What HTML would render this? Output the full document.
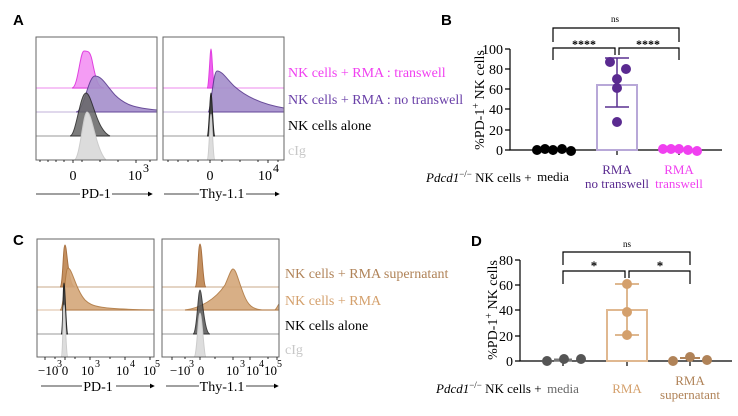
<!DOCTYPE html>
<html><head><meta charset="utf-8"><style>
body{margin:0;background:#fff;width:738px;height:416px;overflow:hidden}
svg{display:block}
text{font-family:"Liberation Serif",serif;}
.b{font-family:"Liberation Sans",sans-serif;font-weight:bold;font-size:15px}
</style></head><body>
<svg width="738" height="416" viewBox="0 0 738 416" xmlns="http://www.w3.org/2000/svg">
<defs>
<marker id="ar" markerWidth="6" markerHeight="6" refX="5" refY="3" orient="auto"><path d="M0,0 L6,3 L0,6 z" fill="#000"/></marker>
</defs>
<!-- Panel A -->
<text x="13" y="25" class="b">A</text>
<g stroke-width="1">
<path d="M36,88 H157" stroke="#f4b0f4" stroke-width="1.5"/>
<path d="M36,112 H157" stroke="#c0b0d8"/>
<path d="M36,136 H157" stroke="#999"/>
<path d="M72,88 C78,88 80,51 84,51 C88,51 90,51 92,60 C96,80 98,88 104,88 Z" fill="#f49cf4" stroke="#e040e0"/>
<path d="M76,112 C84,112 88,76 95,76 C102,76 106,85 115,95 C125,105 135,108 157,110 L157,112 Z" fill="#a58fcb" stroke="#5a3a90" opacity="0.9"/>
<path d="M70,136 C76,136 80,93 86,93 C92,93 96,130 110,136 Z" fill="#666" stroke="#222" opacity="0.85"/>
<path d="M74,160 C80,160 83,112 87,112 C92,112 96,150 106,160 Z" fill="#dcdcdc" stroke="#ccc"/>
<rect x="36" y="37" width="121" height="123" fill="none" stroke="#666"/>
<path d="M163,88 H284" stroke="#f4b0f4" stroke-width="1.5"/>
<path d="M163,112 H284" stroke="#c0b0d8"/>
<path d="M163,136 H284" stroke="#999"/>
<path d="M207,88 C209,88 210,49 211,49 C212,49 213,88 215,88 Z" fill="#f060f0" stroke="#e040e0"/>
<path d="M208,112 C211,112 213,71 217,71 C222,71 226,78 234,86 C245,96 260,104 284,108 L284,112 Z" fill="#a58fcb" stroke="#5a3a90" opacity="0.9"/>
<path d="M207,136 C209,136 210,93 211,93 C212,93 213,136 215,136 Z" fill="#444" stroke="#222"/>
<path d="M207,160 C209,160 210,114 211,114 C212,114 213,160 215,160 Z" fill="#ddd" stroke="#ccc"/>
<rect x="163" y="37" width="121" height="123" fill="none" stroke="#666"/>
</g>
<g stroke="#000" stroke-width="0.8">
<path d="M40,160v2 M48,160v2 M56,160v2 M64,160v2 M73,160v3 M82,160v2 M100,160v2 M118,160v2 M136,160v3 M150,160v2"/>
<path d="M168,160v2 M178,160v2 M188,160v2 M198,160v2 M210,160v3 M222,160v2 M240,160v2 M258,160v2 M268,160v3 M278,160v2"/>
</g>
<g font-size="14">
<text x="73" y="180" text-anchor="middle">0</text>
<text x="128" y="180">10</text><text x="143" y="172" font-size="12">3</text>
<text x="210" y="180" text-anchor="middle">0</text>
<text x="258" y="180">10</text><text x="273" y="172" font-size="12">4</text>
<text x="96" y="198" text-anchor="middle">PD-1</text>
<text x="222" y="198" text-anchor="middle">Thy-1.1</text>
</g>
<g stroke="#000" stroke-width="0.8">
<path d="M36,194 H80"/><path d="M112,194 H152" marker-end="url(#ar)"/>
<path d="M164,194 H199"/><path d="M246,194 H279" marker-end="url(#ar)"/>
</g>
<g font-size="14">
<text x="288" y="77" fill="#f040f0">NK cells + RMA : transwell</text>
<text x="288" y="104" fill="#6a40a8">NK cells + RMA : no transwell</text>
<text x="288" y="130" fill="#000">NK cells alone</text>
<text x="288" y="155" fill="#c8c8c8">cIg</text>
</g>
<!-- Panel B -->
<text x="441" y="25" class="b">B</text>
<g stroke="#000" stroke-width="1.2" fill="none">
<path d="M510,49 V150 H722"/>
<path d="M505,49 H510 M505,69 H510 M505,89 H510 M505,109 H510 M505,130 H510 M505,150 H510"/>
<path d="M553,150 V155 M617,150 V155 M679,150 V155"/>
<path d="M553,42 V28 H679 V42"/>
<path d="M553,60 V48 H615 V55 M619,55 V48 H679 V60"/>
</g>
<rect x="597" y="85" width="40" height="65" fill="none" stroke="#b8a8d8" stroke-width="2"/>
<path d="M617,58 V107 M605,58 H629 M605,107 H629" stroke="#5a3090" stroke-width="1.5"/>
<g fill="#5a2a90"><circle cx="610" cy="62" r="5"/><circle cx="626" cy="69" r="5"/><circle cx="617" cy="79" r="5"/><circle cx="617" cy="88" r="5"/><circle cx="617" cy="122" r="5"/></g>
<g fill="#000"><circle cx="537" cy="150" r="5"/><circle cx="545" cy="149" r="5"/><circle cx="553" cy="150" r="5"/><circle cx="562" cy="149" r="5"/><circle cx="571" cy="151" r="5"/></g>
<g fill="#f040f0"><circle cx="663" cy="149" r="5"/><circle cx="671" cy="149" r="5"/><circle cx="679" cy="149" r="5"/><circle cx="688" cy="150" r="5"/><circle cx="697" cy="151" r="5"/></g>
<g font-size="14" text-anchor="end"><text x="503" y="54">100</text><text x="503" y="74">80</text><text x="503" y="94">60</text><text x="503" y="114">40</text><text x="503" y="135">20</text><text x="503" y="155">0</text></g>
<text x="615" y="22" font-size="9" text-anchor="middle">ns</text>
<text x="584" y="48" font-size="12" font-weight="bold" text-anchor="middle">****</text>
<text x="648" y="48" font-size="12" font-weight="bold" text-anchor="middle">****</text>
<text transform="translate(484,100) rotate(-90)" font-size="14" text-anchor="middle">%PD-1<tspan font-size="10" dy="-5">+</tspan><tspan dy="5"> NK cells</tspan></text>
<g font-size="13" text-anchor="middle">
<text x="553" y="181">media</text>
<text x="617" y="174" fill="#5a2a90">RMA</text><text x="617" y="188" fill="#5a2a90">no transwell</text>
<text x="679" y="174" fill="#f040f0">RMA</text><text x="679" y="188" fill="#f040f0">transwell</text>
</g>
<text x="426" y="182" font-size="13"><tspan font-style="italic">Pdcd1</tspan><tspan font-size="9" dy="-5">−/−</tspan><tspan dy="5"> NK cells +</tspan></text>
<!-- Panel C -->
<text x="13" y="245" class="b">C</text>
<g stroke-width="1">
<path d="M37,287 H154" stroke="#c8a888"/>
<path d="M37,310 H154" stroke="#e8d4c0" stroke-width="1.5"/>
<path d="M37,334 H154" stroke="#999"/>
<path d="M60,287 C63,287 63,245 65,245 C67,245 68,287 75,287 Z" fill="#c49060" stroke="#a87040"/>
<path d="M60,310 C64,310 65,268 68,268 C72,268 76,290 85,300 C92,307 100,309 154,310 Z" fill="#d4a77a" stroke="#b07840" opacity="0.9"/>
<path d="M61,334 C63,334 63,283 64,283 C65,283 66,334 68,334 Z" fill="#555" stroke="#222"/>
<path d="M61,357 C63,357 63,305 64,305 C65,305 66,357 68,357 Z" fill="#ddd" stroke="#ccc"/>
<rect x="37" y="239" width="117" height="118" fill="none" stroke="#666"/>
<path d="M162,287 H279" stroke="#c8a888"/>
<path d="M162,310 H279" stroke="#e8d4c0" stroke-width="1.5"/>
<path d="M162,334 H279" stroke="#999"/>
<path d="M195,287 C198,287 198,244 200,244 C202,244 203,287 206,287 Z" fill="#c49060" stroke="#a87040"/>
<path d="M185,310 C200,308 215,300 225,285 C229,276 231,269 233,269 C236,269 238,280 244,295 C248,305 252,309 262,310 L275,310 C277,308 278,305 279,304 L279,310 Z" fill="#d4a77a" stroke="#b07840" opacity="0.9"/>
<path d="M193,334 C197,334 198,290 200,290 C202,290 204,334 210,334 Z" fill="#555" stroke="#222" opacity="0.85"/>
<path d="M194,357 C197,357 198,313 200,313 C202,313 204,357 206,357 Z" fill="#ddd" stroke="#ccc"/>
<rect x="162" y="239" width="117" height="118" fill="none" stroke="#666"/>
</g>
<g stroke="#000" stroke-width="0.8">
<path d="M45,357v3 M55,357v2 M65,357v3 M75,357v2 M90,357v3 M110,357v2 M125,357v3 M150,357v3"/>
<path d="M172,357v3 M185,357v2 M200,357v3 M215,357v2 M233,357v3 M250,357v3 M268,357v2 M277,357v3"/>
</g>
<g font-size="13">
<text x="38" y="375">−10</text><text x="57" y="367" font-size="10">3</text>
<text x="65" y="375" text-anchor="middle">0</text>
<text x="81" y="375">10</text><text x="95" y="367" font-size="10">3</text>
<text x="116" y="375">10</text><text x="130" y="367" font-size="10">4</text>
<text x="143" y="375">10</text><text x="155" y="367" font-size="10">5</text>
<text x="170" y="375">−10</text><text x="189" y="367" font-size="10">3</text>
<text x="201" y="375" text-anchor="middle">0</text>
<text x="226" y="375">10</text><text x="240" y="367" font-size="10">3</text>
<text x="246" y="375">10</text><text x="259" y="367" font-size="10">4</text>
<text x="264" y="375">10</text><text x="277" y="367" font-size="10">5</text>
<text x="98" y="391" font-size="14" text-anchor="middle">PD-1</text>
<text x="222" y="391" font-size="14" text-anchor="middle">Thy-1.1</text>
</g>
<g stroke="#000" stroke-width="0.8">
<path d="M41,386 H82"/><path d="M116,386 H154" marker-end="url(#ar)"/>
<path d="M166,386 H199"/><path d="M246,386 H278" marker-end="url(#ar)"/>
</g>
<g font-size="14">
<text x="285" y="278" fill="#b08358">NK cells + RMA supernatant</text>
<text x="285" y="305" fill="#d4a06c">NK cells + RMA</text>
<text x="285" y="330" fill="#000">NK cells alone</text>
<text x="285" y="354" fill="#c8c8c8">cIg</text>
</g>
<!-- Panel D -->
<text x="471" y="246" class="b">D</text>
<g stroke="#000" stroke-width="1.2" fill="none">
<path d="M520,260 V361 H732"/>
<path d="M515,260 H520 M515,285 H520 M515,310 H520 M515,336 H520 M515,361 H520"/>
<path d="M563,361 V366 M627,361 V366 M690,361 V366"/>
<path d="M563,265 V252 H690 V265"/>
<path d="M563,284 V271 H625 V278 M629,278 V271 H690 V284"/>
</g>
<rect x="607" y="310" width="40" height="51" fill="none" stroke="#e0b890" stroke-width="2"/>
<path d="M627,284 V335 M615,284 H639 M615,335 H639" stroke="#d4a06c" stroke-width="1.5"/>
<g fill="#d4a06c"><circle cx="627" cy="284" r="5"/><circle cx="627" cy="312" r="5"/><circle cx="627" cy="335" r="5"/></g>
<path d="M554,360 H572" stroke="#777" stroke-width="3"/>
<g fill="#555"><circle cx="547" cy="361" r="5"/><circle cx="564" cy="359" r="5"/><circle cx="581" cy="359" r="5"/></g>
<path d="M680,358 H700" stroke="#b08358" stroke-width="2"/>
<g fill="#b08358"><circle cx="673" cy="361" r="5"/><circle cx="690" cy="357" r="5"/><circle cx="707" cy="360" r="5"/></g>
<g font-size="14" text-anchor="end"><text x="513" y="265">80</text><text x="513" y="290">60</text><text x="513" y="315">40</text><text x="513" y="341">20</text><text x="513" y="366">0</text></g>
<text x="627" y="247" font-size="9" text-anchor="middle">ns</text>
<text x="594" y="270" font-size="13" font-weight="bold" text-anchor="middle">*</text>
<text x="660" y="270" font-size="13" font-weight="bold" text-anchor="middle">*</text>
<text transform="translate(497,310) rotate(-90)" font-size="14" text-anchor="middle">%PD-1<tspan font-size="10" dy="-5">+</tspan><tspan dy="5"> NK cells</tspan></text>
<g font-size="13" text-anchor="middle">
<text x="563" y="393" fill="#666">media</text>
<text x="627" y="393" fill="#d4a06c">RMA</text>
<text x="690" y="385" fill="#b08358">RMA</text><text x="690" y="399" fill="#b08358">supernatant</text>
</g>
<text x="436" y="393" font-size="13"><tspan font-style="italic">Pdcd1</tspan><tspan font-size="9" dy="-5">−/−</tspan><tspan dy="5"> NK cells +</tspan></text>
</svg>
</body></html>
